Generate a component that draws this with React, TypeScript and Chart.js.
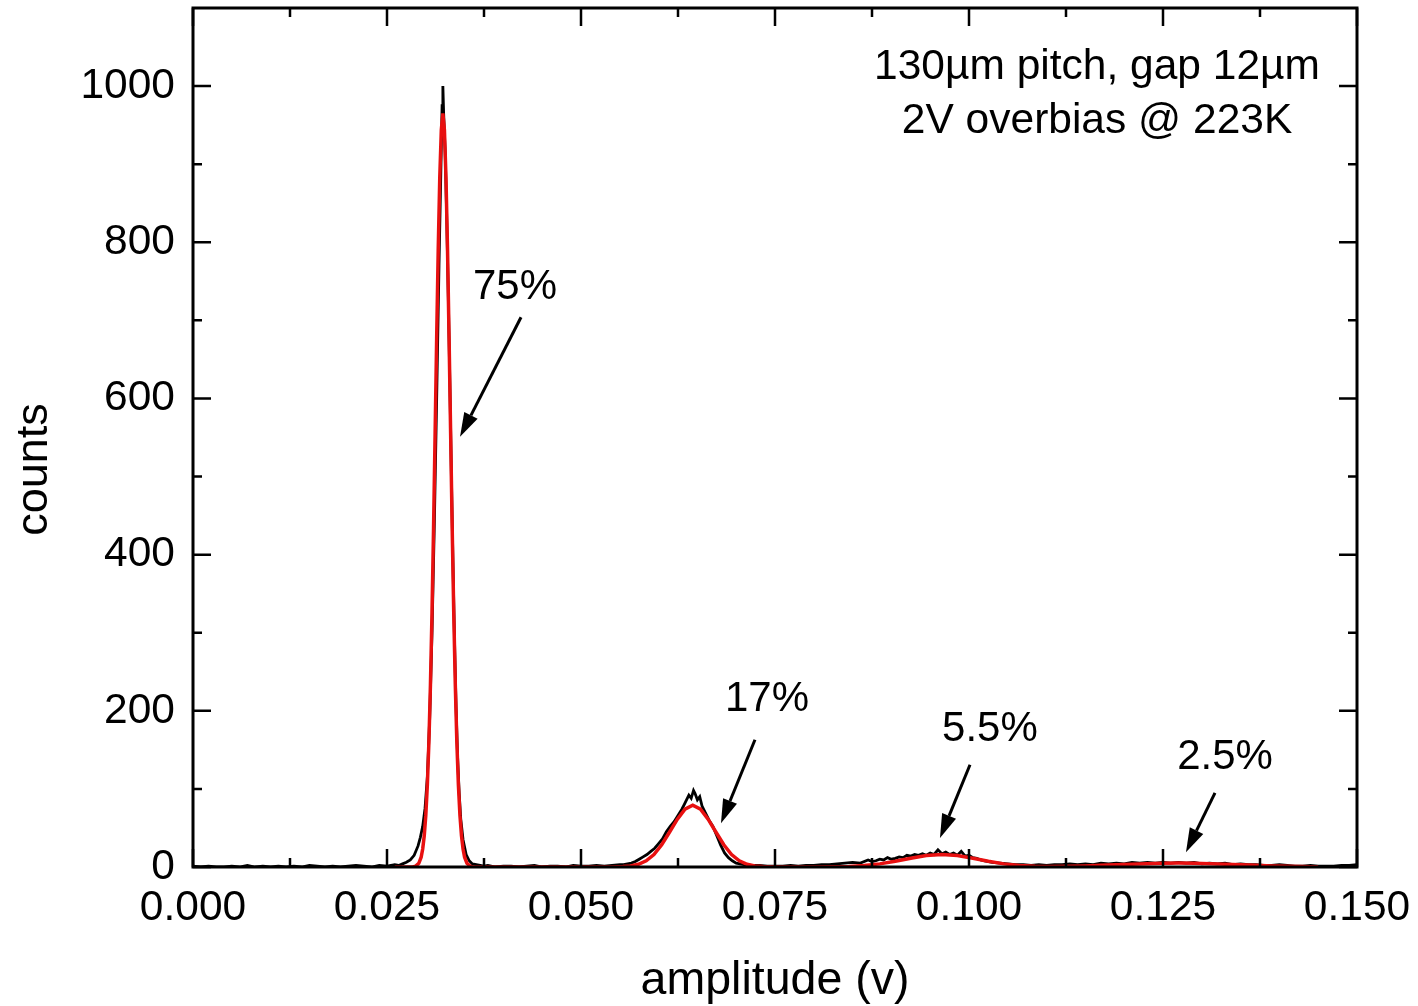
import React, { useEffect, useRef } from 'react';
import { Chart, registerables } from 'chart.js';

Chart.register(...registerables);

const FONT = '"Liberation Sans", Arial, sans-serif';
const RED = 'rgb(232, 16, 16)';

const xMajorTicks = [0, 0.025, 0.05, 0.075, 0.1, 0.125, 0.15];
const xMinorTicks = [0.0125, 0.0375, 0.0625, 0.0875, 0.1125, 0.1375];
const yMajorTicks = [0, 200, 400, 600, 800, 1000];
const yMinorTicks = [100, 300, 500, 700, 900];

// measured histogram (amplitude in V, counts)
const measured: [number, number][] = [
  [0, 1], [0.001, 0], [0.002, 1], [0.003, 0], [0.004, 0], [0.005, 1], [0.006, 0], [0.007, 2], [0.008, 0], [0.009, 1],
  [0.01, 0], [0.011, 1], [0.012, 0], [0.013, 1], [0.014, 0], [0.015, 2], [0.016, 1], [0.017, 0], [0.018, 1], [0.019, 0],
  [0.02, 1], [0.021, 2], [0.022, 1], [0.023, 0], [0.024, 2], [0.025, 1], [0.026, 3], [0.0265, 2], [0.027, 4], [0.0275, 6],
  [0.028, 9], [0.0285, 15], [0.029, 27], [0.0293, 38], [0.0296, 52], [0.0299, 75], [0.0302, 115], [0.0305, 190],
  [0.0308, 300], [0.0311, 440], [0.0314, 600], [0.0317, 770], [0.0319, 870], [0.0321, 975], [0.0322, 1000],
  [0.0323, 965], [0.0325, 915], [0.0327, 830], [0.0329, 730], [0.0331, 620], [0.0333, 500], [0.0335, 390],
  [0.0337, 290], [0.0339, 205], [0.0341, 140], [0.0343, 95], [0.0345, 62], [0.0348, 35], [0.0352, 16], [0.0356, 8],
  [0.036, 4], [0.0365, 3], [0.037, 2], [0.0375, 1], [0.038, 2], [0.039, 0], [0.04, 1], [0.041, 1], [0.042, 0],
  [0.043, 1], [0.044, 2], [0.045, 0], [0.046, 1], [0.047, 1], [0.048, 0], [0.049, 2], [0.05, 1], [0.051, 1],
  [0.052, 2], [0.053, 1], [0.054, 2], [0.055, 3], [0.0555, 3], [0.056, 4], [0.0565, 5], [0.057, 7], [0.0575, 10],
  [0.058, 13], [0.0585, 16], [0.059, 20], [0.0595, 24], [0.06, 30], [0.0605, 36], [0.061, 45], [0.0615, 52],
  [0.062, 58], [0.0625, 66], [0.063, 74], [0.0633, 80], [0.0636, 86], [0.0639, 92], [0.0642, 88], [0.0645, 98],
  [0.0647, 94], [0.065, 86], [0.0653, 90], [0.0656, 78], [0.066, 70], [0.0665, 60], [0.067, 52], [0.0675, 40],
  [0.068, 28], [0.0685, 18], [0.069, 12], [0.0695, 8], [0.07, 5], [0.071, 3], [0.072, 2], [0.073, 2], [0.074, 1],
  [0.075, 1], [0.076, 1], [0.077, 2], [0.078, 1], [0.079, 2], [0.08, 2], [0.081, 3], [0.082, 3], [0.083, 4],
  [0.084, 5], [0.085, 6], [0.086, 5], [0.087, 9], [0.0875, 7], [0.088, 8], [0.0885, 10], [0.089, 9], [0.0895, 12],
  [0.09, 10], [0.0905, 11], [0.091, 13], [0.0915, 12], [0.092, 15], [0.0925, 14], [0.093, 16], [0.0935, 15],
  [0.094, 17], [0.0945, 15], [0.095, 18], [0.0955, 16], [0.096, 22], [0.0965, 17], [0.097, 19], [0.0975, 16],
  [0.098, 18], [0.0985, 15], [0.099, 20], [0.0995, 14], [0.1, 15], [0.1005, 12], [0.101, 11], [0.1015, 9],
  [0.102, 8], [0.1025, 7], [0.103, 6], [0.104, 5], [0.105, 4], [0.106, 3], [0.107, 3], [0.108, 2], [0.109, 3],
  [0.11, 2], [0.111, 3], [0.112, 3], [0.113, 4], [0.114, 3], [0.115, 4], [0.116, 3], [0.117, 5], [0.118, 4],
  [0.119, 5], [0.12, 4], [0.121, 6], [0.122, 5], [0.123, 6], [0.124, 5], [0.125, 6], [0.126, 5], [0.127, 6],
  [0.128, 5], [0.129, 6], [0.13, 4], [0.131, 5], [0.132, 4], [0.133, 5], [0.134, 3], [0.135, 4], [0.136, 3],
  [0.137, 3], [0.138, 2], [0.139, 2], [0.14, 3], [0.141, 2], [0.142, 1], [0.143, 1], [0.144, 2], [0.145, 1],
  [0.146, 1], [0.147, 1], [0.148, 2], [0.149, 2], [0.15, 3],
];

// multi-peak fit curve (amplitude in V, counts)
const fitCurve: [number, number][] = [
  [0.026, 0], [0.0283, 0.1], [0.0287, 1.1], [0.0291, 4.7], [0.0294, 12.5], [0.0296, 23], [0.0298, 40], [0.03, 66],
  [0.0302, 105], [0.0304, 160], [0.0306, 234], [0.0308, 326], [0.031, 434], [0.0312, 555], [0.0314, 677],
  [0.0316, 790], [0.0318, 883], [0.032, 944], [0.0322, 965], [0.0324, 944], [0.0326, 883], [0.0328, 790],
  [0.033, 677], [0.0332, 555], [0.0334, 434], [0.0336, 326], [0.0338, 234], [0.034, 160], [0.0342, 105],
  [0.0344, 66], [0.0346, 40], [0.0348, 23], [0.035, 12.5], [0.0353, 4.7], [0.0357, 1.1], [0.0361, 0.1], [0.037, 0],
  [0.054, 0], [0.0554, 0.5], [0.0564, 1.3], [0.0574, 3.5], [0.0584, 8], [0.0594, 16], [0.0604, 28.5], [0.0614, 44.5],
  [0.0624, 61], [0.0634, 74], [0.0644, 79], [0.0654, 74], [0.0664, 61], [0.0674, 44.5], [0.0684, 28.5], [0.0694, 16],
  [0.0704, 8], [0.0714, 3.5], [0.0724, 1.3], [0.0734, 0.5], [0.0754, 0.1], [0.0805, 0.1], [0.0825, 0.3],
  [0.0845, 0.7], [0.0865, 1.8], [0.0885, 4], [0.0905, 7.3], [0.0925, 11.3], [0.0945, 14.7], [0.0965, 16],
  [0.0985, 14.7], [0.1005, 11.3], [0.1025, 7.3], [0.1045, 4], [0.1065, 1.9], [0.1085, 0.9], [0.1105, 0.8],
  [0.113, 1], [0.115, 1.4], [0.117, 2.1], [0.119, 2.8], [0.121, 3.6], [0.123, 4.3], [0.125, 4.8], [0.127, 5],
  [0.129, 4.8], [0.131, 4.3], [0.133, 3.6], [0.135, 2.8], [0.137, 2.1], [0.139, 1.4], [0.141, 1], [0.143, 0.5],
  [0.145, 0.1],
];

const yAxisTitle = 'counts';
const yAxisTitleAt = 509; // counts value at which the rotated title is centred
const peakLabels = ['75%', '17%', '5.5%', '2.5%'];
const peakLabelPos: [number, number][] = [[0.0415, 742], [0.07397, 215], [0.1027, 176], [0.133, 140]];
const arrowStart: [number, number][] = [[0.04227, 704], [0.07242, 163], [0.10013, 131], [0.1317, 95]];
const arrowTip: [number, number][] = [[0.03441, 551], [0.06804, 56], [0.09626, 37], [0.12796, 19]];
const headerLines = ['130µm pitch, gap 12µm', '2V overbias @ 223K'];
const headerPos: [number, number][] = [[0.1165, 1024], [0.1165, 955]];

const framePlugin = {
  id: 'frameAndNotes',
  afterDatasetsDraw(chart: any) {
    const { ctx, chartArea, scales } = chart;
    const { left, right, top, bottom } = chartArea;
    const xs = scales.x;
    const ys = scales.y;
    ctx.save();
    ctx.strokeStyle = '#000';
    ctx.lineWidth = 3;
    ctx.strokeRect(left, top, right - left, bottom - top);

    const MAJ = 18;
    const MIN = 9;
    ctx.lineWidth = 2.5;
    ctx.beginPath();
    const xTick = (v: number, len: number) => {
      const px = xs.getPixelForValue(v);
      ctx.moveTo(px, bottom);
      ctx.lineTo(px, bottom - len);
      ctx.moveTo(px, top);
      ctx.lineTo(px, top + len);
    };
    const yTick = (v: number, len: number) => {
      const py = ys.getPixelForValue(v);
      ctx.moveTo(left, py);
      ctx.lineTo(left + len, py);
      ctx.moveTo(right, py);
      ctx.lineTo(right - len, py);
    };
    xMajorTicks.forEach((v) => xTick(v, MAJ));
    xMinorTicks.forEach((v) => xTick(v, MIN));
    yMajorTicks.forEach((v) => yTick(v, MAJ));
    yMinorTicks.forEach((v) => yTick(v, MIN));
    ctx.stroke();

    ctx.fillStyle = '#000';
    ctx.textAlign = 'center';
    ctx.textBaseline = 'middle';

    // y axis title (rotated)
    ctx.save();
    ctx.translate(ys.left + 35, ys.getPixelForValue(yAxisTitleAt));
    ctx.rotate(-Math.PI / 2);
    ctx.font = `45px ${FONT}`;
    ctx.fillText(yAxisTitle, 0, 0);
    ctx.restore();

    // header text
    ctx.font = `42.5px ${FONT}`;
    headerLines.forEach((t, i) => {
      ctx.fillText(t, xs.getPixelForValue(headerPos[i][0]), ys.getPixelForValue(headerPos[i][1]));
    });

    // peak labels
    ctx.font = `42px ${FONT}`;
    peakLabels.forEach((t, i) => {
      ctx.fillText(t, xs.getPixelForValue(peakLabelPos[i][0]), ys.getPixelForValue(peakLabelPos[i][1]));
    });

    // arrows
    arrowStart.forEach((s, i) => {
      const x0 = xs.getPixelForValue(s[0]);
      const y0 = ys.getPixelForValue(s[1]);
      const x1 = xs.getPixelForValue(arrowTip[i][0]);
      const y1 = ys.getPixelForValue(arrowTip[i][1]);
      const ang = Math.atan2(y1 - y0, x1 - x0);
      const headLen = 24;
      const headHalf = 7.5;
      const bx = x1 - headLen * Math.cos(ang);
      const by = y1 - headLen * Math.sin(ang);
      ctx.lineWidth = 3;
      ctx.beginPath();
      ctx.moveTo(x0, y0);
      ctx.lineTo(bx, by);
      ctx.stroke();
      ctx.beginPath();
      ctx.moveTo(x1, y1);
      ctx.lineTo(bx + headHalf * Math.sin(ang), by - headHalf * Math.cos(ang));
      ctx.lineTo(bx - headHalf * Math.sin(ang), by + headHalf * Math.cos(ang));
      ctx.closePath();
      ctx.fill();
    });
    ctx.restore();
  },
};

export default function App() {
  const canvasRef = useRef<HTMLCanvasElement | null>(null);

  useEffect(() => {
    if (!canvasRef.current) return;
    const chart = new Chart(canvasRef.current, {
      type: 'line',
      data: {
        datasets: [
          {
            label: 'fit',
            data: fitCurve.map(([x, y]) => ({ x, y })),
            borderColor: RED,
            borderWidth: 3.5,
            pointRadius: 0,
            tension: 0,
            fill: false,
          },
          {
            label: 'measured',
            data: measured.map(([x, y]) => ({ x, y })),
            borderColor: '#000',
            borderWidth: 2.8,
            pointRadius: 0,
            tension: 0,
            fill: false,
          },
        ],
      },
      options: {
        animation: false,
        responsive: false,
        devicePixelRatio: 1,
        layout: { padding: { left: 0, top: 8, right: 61, bottom: 0 } },
        plugins: { legend: { display: false }, tooltip: { enabled: false } },
        scales: {
          x: {
            type: 'linear',
            min: 0,
            max: 0.15,
            grid: { display: false, drawTicks: false },
            border: { display: false },
            afterBuildTicks: (s: any) => {
              s.ticks = xMajorTicks.map((v) => ({ value: v }));
            },
            afterFit: (s: any) => {
              s.height = 139;
              s.paddingLeft = 0;
              s.paddingRight = 0;
              s.paddingTop = 0;
              s.paddingBottom = 0;
            },
            ticks: {
              autoSkip: false,
              maxRotation: 0,
              padding: 16,
              color: '#000',
              font: { family: FONT, size: 42.5 },
              callback: (v: any) => Number(v).toFixed(3),
            },
            title: {
              display: true,
              text: 'amplitude (v)',
              color: '#000',
              font: { family: FONT, size: 46.5 },
              padding: { top: 0, bottom: -3 },
            },
          },
          y: {
            type: 'linear',
            min: 0,
            max: 1100,
            grid: { display: false, drawTicks: false },
            border: { display: false },
            afterBuildTicks: (s: any) => {
              s.ticks = yMajorTicks.map((v) => ({ value: v }));
            },
            afterFit: (s: any) => {
              s.width = 193;
              s.paddingLeft = 0;
              s.paddingRight = 0;
              s.paddingTop = 0;
              s.paddingBottom = 0;
            },
            ticks: {
              autoSkip: false,
              padding: 18,
              color: '#000',
              font: { family: FONT, size: 42.5 },
              callback: (v: any) => String(v),
            },
            title: { display: false },
          },
        },
      },
      plugins: [framePlugin],
    });
    return () => chart.destroy();
  }, []);

  return (
    <div style={{ position: 'absolute', left: 0, top: 0, width: 1418, height: 1006, background: '#fff' }}>
      <canvas ref={canvasRef} width={1418} height={1006} />
    </div>
  );
}
